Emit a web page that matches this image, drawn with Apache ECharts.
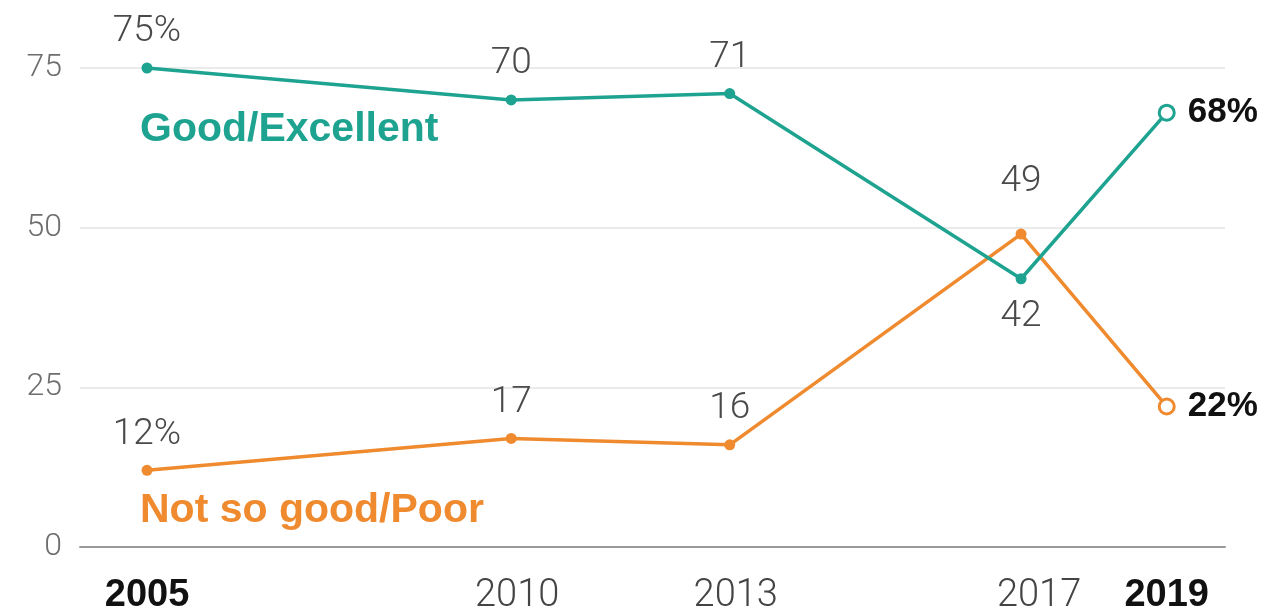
<!DOCTYPE html>
<html>
<head>
<meta charset="utf-8">
<script src="https://cdn.jsdelivr.net/npm/echarts@6/dist/echarts.min.js"></script>
<style>html,body{margin:0;padding:0;background:#fff;}#chart{width:1273px;height:613px;}</style>
</head>
<body>
<div id="chart"></div>
<script>
const years = [2005, 2010, 2013, 2017, 2019];
const goodExcellent = [75, 70, 71, 42, 68];
const notSoGoodPoor = [12, 17, 16, 49, 22];
const yTicks = [0, 25, 50, 75];
const seriesNames = ['Good/Excellent', 'Not so good/Poor'];

const TEAL = '#1fa391';
const ORANGE = '#ef8a2f';
const NUM_FONT = 'Roboto';
const last = years.length - 1;

function buildData(vals, color, labelTweaks) {
  return vals.map((v, i) => {
    const d = { value: [years[i], v] };
    if (i === last) {
      d.symbol = 'circle';
      d.symbolSize = 15;
      d.itemStyle = { color: '#fff', borderColor: color, borderWidth: 3 };
      d.label = {
        position: 'right', distance: 12,
        formatter: v + '%', fontWeight: 'bold', color: '#111',
        fontFamily: 'Liberation Sans', fontSize: 35
      };
    } else if (i === 0) {
      d.label = { formatter: v + '%' };
    } else if (labelTweaks && labelTweaks[i]) {
      d.label = labelTweaks[i];
    }
    return d;
  });
}

const baseLabel = {
  show: true, position: 'top', distance: 12,
  fontSize: 37, fontFamily: NUM_FONT, fontWeight: 300, color: '#4a4a4a',
  formatter: p => String(p.value[1])
};

const chart = echarts.init(document.getElementById('chart'));
chart.setOption({
  animation: false,
  grid: { left: 80, right: 48, top: 68, bottom: 66, containLabel: false, outerBoundsMode: 'none' },
  xAxis: {
    type: 'value', min: 2004.08, max: 2019.80,
    splitLine: { show: false },
    axisTick: { show: false },
    axisLine: { show: true, onZero: false, lineStyle: { color: '#9a9a9a', width: 2 } },
    axisLabel: {
      customValues: years,
      margin: 30,
      fontSize: 37, fontFamily: NUM_FONT, fontWeight: 300, color: '#444',
      formatter: v => {
        if (v === years[0] || v === years[last]) return '{b|' + v + '}';
        if (v === years[last - 1]) return '{s|' + v + '}';
        return '{n|' + v + '}';
      },
      rich: {
        b: { fontWeight: 'bold', color: '#111', fontFamily: 'Liberation Sans', fontSize: 38 },
        n: { fontSize: 38, fontFamily: NUM_FONT, fontWeight: 300, color: '#444', padding: [0, 0, 0, 12] },
        s: { fontSize: 38, fontFamily: NUM_FONT, fontWeight: 300, color: '#444', padding: [0, 0, 0, 36] }
      }
    }
  },
  yAxis: {
    type: 'value', min: 0, max: 75, interval: 25,
    axisLine: { show: false }, axisTick: { show: false },
    axisLabel: {
      margin: 18, fontSize: 32, fontFamily: NUM_FONT, fontWeight: 300, color: '#6e6e6e',
      customValues: yTicks
    },
    splitLine: { show: true, lineStyle: { color: '#ebebeb', width: 2 } }
  },
  series: [
    {
      name: seriesNames[0], type: 'line',
      data: buildData(goodExcellent, TEAL, { 3: { position: 'bottom', distance: 14 } }),
      symbol: 'circle', symbolSize: 11,
      lineStyle: { color: TEAL, width: 3.5 },
      itemStyle: { color: TEAL },
      label: baseLabel,
      z: 3
    },
    {
      name: seriesNames[1], type: 'line',
      data: buildData(notSoGoodPoor, ORANGE, { 3: { distance: 28 } }),
      symbol: 'circle', symbolSize: 11,
      lineStyle: { color: ORANGE, width: 3.5 },
      itemStyle: { color: ORANGE },
      label: baseLabel,
      z: 2
    }
  ],
  graphic: [
    {
      type: 'text', left: 140, top: 109,
      style: { text: seriesNames[0], fill: TEAL, font: 'bold 41px "Liberation Sans"' }
    },
    {
      type: 'text', left: 140, top: 490,
      style: { text: seriesNames[1], fill: ORANGE, font: 'bold 41px "Liberation Sans"' }
    }
  ]
});
</script>
</body>
</html>
